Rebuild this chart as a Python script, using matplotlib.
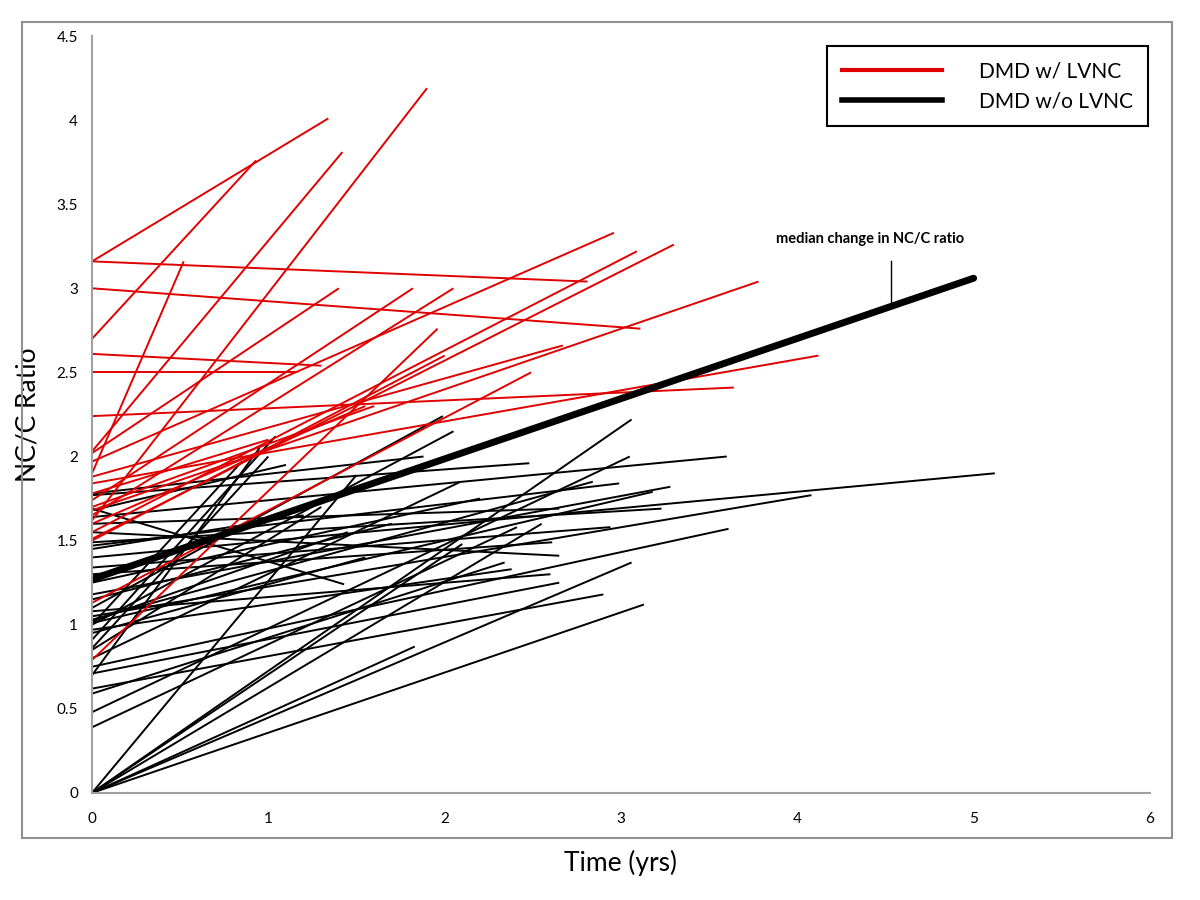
import matplotlib.pyplot as plt
from matplotlib.lines import Line2D
from matplotlib.patches import Rectangle

plt.rcParams['font.family'] = ['Lato', 'DejaVu Sans']

# DMD w/ LVNC: every segment starts at time 0
red_start = [3.16, 2.70, 1.62, 2.03, 3.16, 3.00, 1.90, 2.02, 1.74, 1.65, 0.79,
             1.97, 1.55, 1.51, 1.68, 1.88, 1.13, 2.24, 1.84, 2.61, 2.50,
             1.60, 1.78, 1.50, 1.70]
red_end_x = [1.34, 0.93, 1.90, 1.42, 2.81, 3.11, 0.52, 1.40, 1.82, 2.05, 1.96,
             2.96, 3.09, 3.30, 3.78, 2.67, 2.49, 3.64, 4.12, 1.30, 1.17,
             1.55, 1.00, 2.00, 1.60]
red_end_y = [4.01, 3.76, 4.19, 3.81, 3.04, 2.76, 3.16, 3.00, 3.00, 3.00, 2.76,
             3.33, 3.22, 3.26, 3.04, 2.66, 2.50, 2.41, 2.60, 2.54, 2.50,
             2.30, 2.10, 2.60, 2.30]

# DMD w/o LVNC
black_start = [1.78, 1.77, 1.69, 1.64, 1.60, 1.55, 1.49, 1.47, 1.40, 1.34,
               1.30, 1.18, 1.10, 1.05, 1.03, 1.01, 1.00, 0.97, 0.91, 0.86,
               0.80, 0.75, 0.71, 0.62, 0.59, 0.48, 0.39,
               0.0, 0.0, 0.0, 0.0, 0.0, 0.0, 0.0,
               1.02, 1.15, 0.95, 1.25, 1.45, 1.68, 0.70, 1.00, 1.08, 0.85]
black_end_x = [1.88, 2.48, 1.43, 3.60, 2.65, 2.65, 3.23, 2.99, 5.12, 2.94,
               2.61, 3.28, 1.99, 4.08, 2.84, 3.18, 2.05, 2.38, 1.04, 1.00,
               2.09, 3.61, 2.65, 2.90, 2.34, 3.05, 2.41,
               1.50, 3.06, 1.83, 3.13, 3.06, 2.55, 2.10,
               1.45, 1.70, 1.55, 2.20, 1.20, 1.10, 0.95, 0.85, 2.60, 1.30]
black_end_y = [2.00, 1.96, 1.24, 2.00, 1.69, 1.41, 1.69, 1.84, 1.90, 1.58,
               1.49, 1.82, 2.24, 1.77, 1.85, 1.79, 2.15, 1.33, 2.12, 2.00,
               1.85, 1.57, 1.25, 1.18, 1.37, 2.00, 1.58,
               1.89, 2.22, 0.87, 1.12, 1.37, 1.60, 1.48,
               1.55, 1.60, 1.40, 1.75, 1.65, 1.95, 2.05, 1.97, 1.30, 1.70]

median_x = [0, 5.0]
median_y = [1.27, 3.06]

fig = plt.figure(figsize=(12, 9), dpi=100)
ax = fig.add_axes([0.0767, 0.119, 0.8816, 0.841])

for y0, x1, y1 in zip(black_start, black_end_x, black_end_y):
    ax.plot([0, x1], [y0, y1], color='black', lw=1.4, solid_capstyle='butt')
for y0, x1, y1 in zip(red_start, red_end_x, red_end_y):
    ax.plot([0, x1], [y0, y1], color='#e00000', lw=1.4, solid_capstyle='butt')
ax.plot(median_x, median_y, color='black', lw=5, solid_capstyle='round')

# annotation for the median line
ax.plot([4.53, 4.53], [3.16, 2.90], color='black', lw=1)
ax.text(4.41, 3.25, 'median change in NC/C ratio', fontsize=10.5,
        fontweight='bold', ha='center', va='bottom')

ax.set_xlim(0, 6)
ax.set_ylim(0, 4.5)
ax.set_xticks(range(7))
ax.set_yticks([0, 0.5, 1, 1.5, 2, 2.5, 3, 3.5, 4, 4.5])
ax.set_yticklabels(['0', '0.5', '1', '1.5', '2', '2.5', '3', '3.5', '4', '4.5'])
ax.tick_params(length=0, labelsize=11)
ax.tick_params(axis='x', pad=14)
ax.tick_params(axis='y', pad=10)
for s in ['top', 'right']:
    ax.spines[s].set_visible(False)
for s in ['left', 'bottom']:
    ax.spines[s].set_color('#a0a0a0')
    ax.spines[s].set_linewidth(1.5)

ax.set_xlabel('Time (yrs)', fontsize=19, labelpad=17)
ax.set_ylabel('NC/C Ratio', fontsize=19, labelpad=12)

handles = [Line2D([], [], color='#e00000', lw=3),
           Line2D([], [], color='black', lw=4)]
leg = ax.legend(handles, ['DMD w/ LVNC', 'DMD w/o LVNC'], loc='upper right',
                bbox_to_anchor=(1.008, 1.0), fontsize=15, fancybox=False,
                framealpha=1, edgecolor='black', handlelength=4.8,
                handletextpad=1.8, borderpad=0.7, labelspacing=0.5)
leg.get_frame().set_linewidth(1.5)

fig.patches.append(Rectangle((22 / 1200, 1 - 838 / 900), 1150 / 1200, 816 / 900,
                             transform=fig.transFigure, fill=False,
                             edgecolor='#909090', lw=1.5))

fig.savefig('out.png', dpi=100)
